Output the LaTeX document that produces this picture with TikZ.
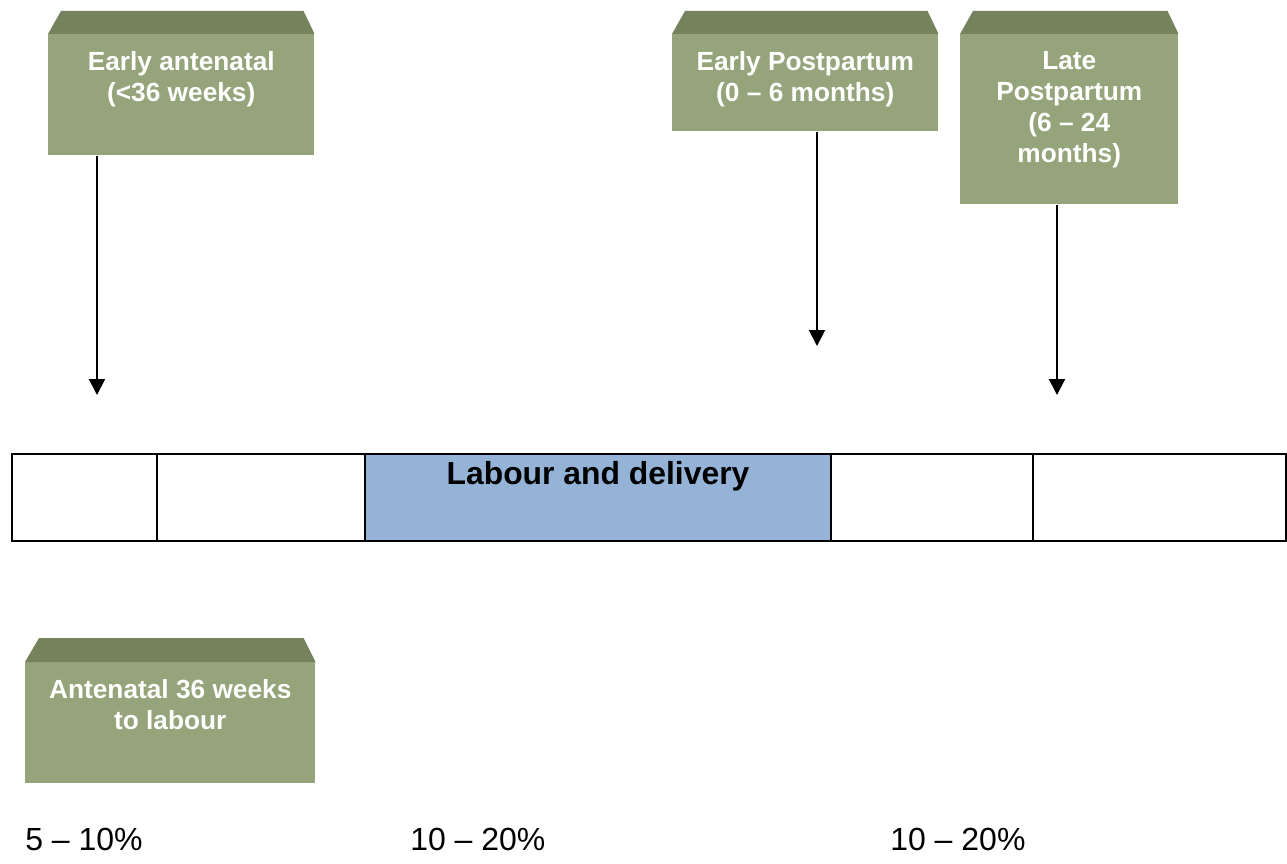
\documentclass[tikz,border=0pt]{standalone}
\usepackage{fontspec}
\setmainfont{Liberation Sans}
\usetikzlibrary{arrows.meta,positioning}
\definecolor{boxgreen}{HTML}{95A47A}
\definecolor{boxtop}{HTML}{75825C}
\definecolor{cellblue}{HTML}{95B3D7}
\begin{document}
\begin{tikzpicture}[x=0.75pt,y=-0.75pt,
    stagebox/.style={fill=boxgreen, inner sep=0pt, anchor=north west},
    stagetext/.style={text=white, font=\bfseries\fontsize{19.7}{23.25}\selectfont,
      align=center, inner sep=0pt, anchor=north},
    cell/.style={draw=black, line width=1.5pt, inner sep=0pt, anchor=north west,
      minimum height=65.25pt},
    ptr/.style={-{Triangle[length=12pt,width=12pt]}, line width=1.4pt},
    pct/.style={font=\fontsize{24}{29}\selectfont, anchor=base west, inner sep=0pt}]
  \useasboundingbox (0,0) rectangle (1287,863);

  % stage boxes
  \node[stagebox, minimum width=199.5pt, minimum height=90.75pt] (early) at (48,34) {};
  \node[stagebox, minimum width=199.5pt, minimum height=72.75pt] (earlypp) at (672,34) {};
  \node[stagebox, minimum width=163.5pt, minimum height=127.5pt] (latepp) at (960,34) {};
  \node[stagebox, minimum width=217.5pt, minimum height=90.75pt] (ante) at (25,662) {};

  \fill[boxtop] (early.north west) -- ++(13,-23) -- ([shift={(-11,-23)}]early.north east) -- (early.north east) -- cycle;
  \fill[boxtop] (earlypp.north west) -- ++(13,-23) -- ([shift={(-11,-23)}]earlypp.north east) -- (earlypp.north east) -- cycle;
  \fill[boxtop] (latepp.north west) -- ++(13,-23) -- ([shift={(-11,-23)}]latepp.north east) -- (latepp.north east) -- cycle;
  \fill[boxtop] (ante.north west) -- ++(14,-24) -- ([shift={(-12,-24)}]ante.north east) -- (ante.north east) -- cycle;

  \node[stagetext] (earlytxt) at ([yshift=-13pt]early.north) {Early antenatal\\(<36 weeks)};
  \node[stagetext] (earlypptxt) at ([yshift=-13pt]earlypp.north) {Early Postpartum\\(0 – 6 months)};
  \node[stagetext] (lateptxt) at ([yshift=-13pt]latepp.north) {Late\\Postpartum\\(6 – 24\\months)};
  \node[stagetext] (antetxt) at ([yshift=-13pt]ante.north) {Antenatal 36 weeks\\to labour};

  % time line
  \node[cell, minimum width=108.75pt] (c1) at (11,453) {};
  \node[cell, minimum width=156pt] (c2) at (156,453) {};
  \node[cell, minimum width=349.5pt, fill=cellblue] (c3) at (364,453) {};
  \node[cell, minimum width=151.5pt] (c4) at (830,453) {};
  \node[cell, minimum width=189.75pt] (c5) at (1032,453) {};
  \node[font=\bfseries\fontsize{23.9}{28}\selectfont, inner sep=0pt, anchor=north]
    (labour) at ([yshift=-6pt]c3.north) {Labour and delivery};

  % pointers
  \coordinate (earlytip) at (97,395);
  \coordinate (earlypptip) at (817,346);
  \coordinate (lateptip) at (1057,395);
  \draw[ptr] (early.south -| earlytip) -- (earlytip);
  \draw[ptr] (earlypp.south -| earlypptip) -- (earlypptip);
  \draw[ptr] (latepp.south -| lateptip) -- (lateptip);

  % rates
  \node[pct] (rate1) at (25,850) {5 – 10\%};
  \node[pct] (rate2) at (410,850) {10 – 20\%};
  \node[pct] (rate3) at (890,850) {10 – 20\%};
\end{tikzpicture}
\end{document}
